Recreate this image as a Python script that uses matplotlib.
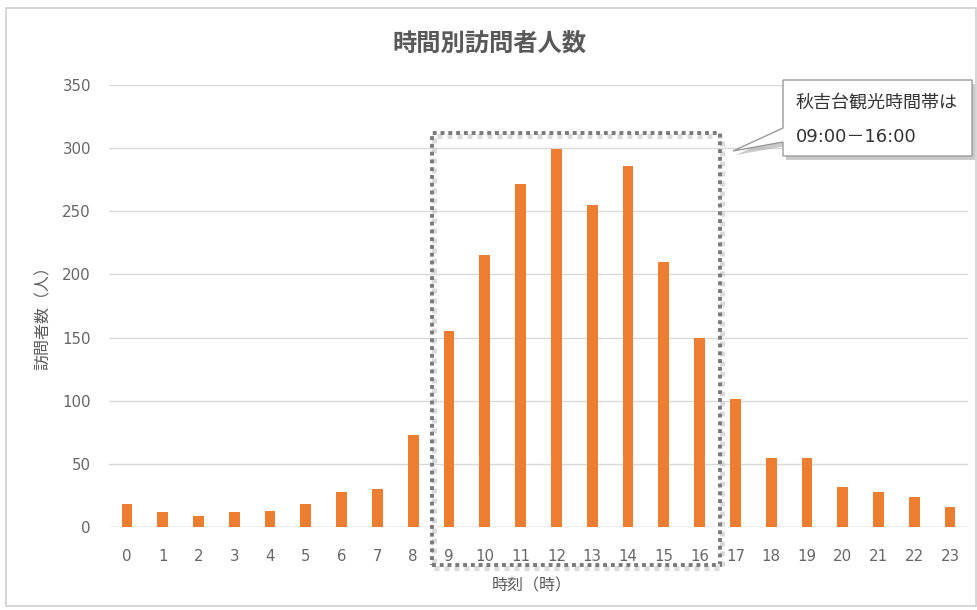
import matplotlib.pyplot as plt
from matplotlib.patches import Rectangle, Polygon

plt.rcParams['font.family'] = ['DejaVu Sans', 'Noto Sans CJK JP']

hours = list(range(24))
visitors = [18, 12, 9, 12, 13, 18, 28, 30, 73, 155, 215, 272, 299, 255, 286, 210,
            150, 101, 55, 55, 32, 28, 24, 16]
tick_labels = [str(h) for h in hours]
y_ticks = [0, 50, 100, 150, 200, 250, 300, 350]

title = '時間別訪問者人数'
x_label = '時刻（時）'
y_label = '訪問者数（人）'
note_lines = ['秋吉台観光時間帯は', '09:00－16:00']
peak_start, peak_end = 9, 16

BAR = '#ED7D31'
GRID = '#d9d9d9'
TXT = '#595959'
JP = ['Noto Sans CJK JP', 'DejaVu Sans']

W, H = 978, 610
fig = plt.figure(figsize=(W / 100, H / 100), dpi=100)


def px(x, y):
    # pixel position (origin top-left) -> figure fraction
    return x / W, 1 - y / H


# outer chart frame
fig.patches.append(Rectangle(px(6, 606), (W - 8) / W, 598 / H, transform=fig.transFigure,
                             fill=False, edgecolor='#d0d0d0', linewidth=1.2))

ax = fig.add_axes([109 / W, 1 - 527 / H, 859 / W, 442 / H])
ax.bar(hours, visitors, width=0.3, color=BAR, zorder=3)
ax.set_xlim(-0.5, 23.5)
ax.set_ylim(0, 350)
ax.set_xticks(hours)
ax.set_xticklabels(tick_labels)
ax.set_yticks(y_ticks)
ax.grid(axis='y', color=GRID, linewidth=1, zorder=0)
ax.tick_params(length=0, colors='#666666', labelsize=10.8)
ax.tick_params(axis='x', pad=16)
ax.tick_params(axis='y', pad=13)
for s in ax.spines.values():
    s.set_visible(False)
ax.axhline(0, color=GRID, linewidth=1, zorder=1)

fig.text(*px(489, 44), title, ha='center', va='center', fontsize=17.5,
         fontweight='bold', color=TXT, family=JP)
fig.text(*px(532, 586), x_label, ha='center', va='center', fontsize=11.5,
         color=TXT, family=JP)
fig.text(*px(43, 314), y_label, ha='center', va='center', fontsize=11.5, rotation=90,
         color=TXT, family=JP)

# dotted frame around the sightseeing hours
x0, x1 = peak_start - 0.48, peak_end + 0.57
y0, y1 = -30, 312
for off, col, lw, a in [(0.07, '#c4c4c4', 3.6, 0.6), (0, '#7a7a7a', 2.8, 1.0)]:
    ax.add_patch(Rectangle((x0 + off, y0 - off * 30), x1 - x0, y1 - y0, fill=False,
                           edgecolor=col, linewidth=lw, linestyle=(0, (1, 1)),
                           alpha=a, clip_on=False, zorder=5))

# callout box with pointer
shape = [(783, 80), (972, 80), (972, 156), (783, 156), (783, 142), (733, 151), (783, 128)]
shadow = [px(x + 3, y + 4) for x, y in shape]
fig.patches.append(Polygon(shadow, closed=True, transform=fig.transFigure,
                           facecolor='#a8a8a8', edgecolor='none', alpha=0.6, zorder=8))
fig.patches.append(Polygon([px(x, y) for x, y in shape], closed=True,
                           transform=fig.transFigure, facecolor='white',
                           edgecolor='#9a9a9a', linewidth=1, zorder=9))
fig.text(*px(796, 104), note_lines[0], ha='left', va='center', fontsize=13,
         color='#333333', family=JP, zorder=10)
fig.text(*px(796, 137), note_lines[1], ha='left', va='center', fontsize=13,
         color='#333333', family=['DejaVu Sans', 'Noto Sans CJK JP'], zorder=10)

fig.savefig('out.png', dpi=100, facecolor='white')
